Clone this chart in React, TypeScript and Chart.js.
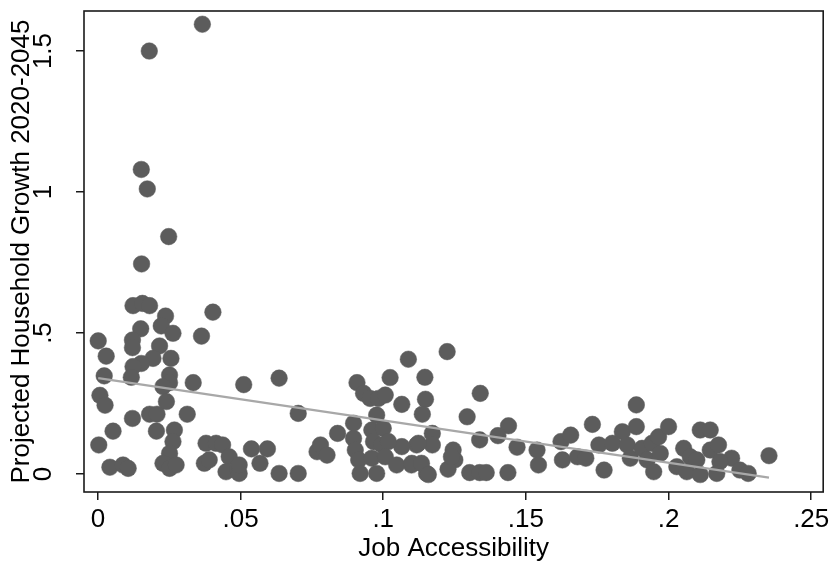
import React, { useEffect, useRef } from "react";
import { Chart, registerables } from "chart.js";

Chart.register(...registerables);

// Job accessibility (x) for each area
const jobAccess = [
  0.0366, 0.018, 0.0152, 0.0173, 0.0248, 0.0153, 0.0123, 0.0156, 0.0181, 0.0237,
  0.0403, 0.0001, 0.015, 0.0222, 0.0263, 0.0363, 0.0121, 0.0121, 0.0029, 0.0216,
  0.0193, 0.0152, 0.0123, 0.0256, 0.0117, 0.0022, 0.0251, 0.0251, 0.0228, 0.0334,
  0.0511, 0.0635, 0.0007, 0.0025, 0.024, 0.0121, 0.0181, 0.0207, 0.0313, 0.0053,
  0.0205, 0.0268, 0.0263, 0.0003, 0.0379, 0.0414, 0.0437, 0.0538, 0.0594, 0.0251,
  0.046, 0.0042, 0.0088, 0.0106, 0.0228, 0.0251, 0.0274, 0.0373, 0.0449, 0.0489,
  0.0495, 0.0568, 0.0635, 0.039, 0.0495, 0.0702, 0.0702, 0.0768, 0.078, 0.0803,
  0.084, 0.0908, 0.0931, 0.0954, 0.0983, 0.1007, 0.1024, 0.1088, 0.1146, 0.1224,
  0.1065, 0.1148, 0.1137, 0.0977, 0.0896, 0.134, 0.1294, 0.1439, 0.1402, 0.1338,
  0.1469, 0.1539, 0.1544, 0.1437, 0.1303, 0.1338, 0.1361, 0.1245, 0.1251, 0.1227,
  0.1172, 0.1172, 0.1117, 0.1099, 0.1152, 0.1065, 0.0896, 0.096, 0.1, 0.0966,
  0.0902, 0.0995, 0.1018, 0.1123, 0.0914, 0.096, 0.1007, 0.1047, 0.11, 0.1134,
  0.0919, 0.0977, 0.1158, 0.1239, 0.1623, 0.1657, 0.1628, 0.1681, 0.171, 0.1733,
  0.1887, 0.1756, 0.1803, 0.1838, 0.1887, 0.1855, 0.1866, 0.1907, 0.1942, 0.1965,
  0.1925, 0.1948, 0.2, 0.1971, 0.1774, 0.2053, 0.2076, 0.2029, 0.2064, 0.2111,
  0.2146, 0.2146, 0.2175, 0.2221, 0.218, 0.2352, 0.2111, 0.2169, 0.225, 0.2279,
  0.2099,
];

// Projected household growth 2020-2045 (y) for each area
const hhGrowth = [
  1.595, 1.5, 1.08, 1.011, 0.842, 0.745, 0.597, 0.605, 0.597, 0.56,
  0.574, 0.472, 0.515, 0.525, 0.499, 0.489, 0.475, 0.448, 0.418, 0.454,
  0.41, 0.392, 0.381, 0.41, 0.343, 0.348, 0.351, 0.324, 0.31, 0.324,
  0.317, 0.34, 0.279, 0.244, 0.257, 0.197, 0.212, 0.212, 0.212, 0.152,
  0.152, 0.156, 0.115, 0.103, 0.109, 0.109, 0.103, 0.089, 0.089, 0.073,
  0.061, 0.024, 0.032, 0.02, 0.038, 0.02, 0.032, 0.038, 0.008, 0.02,
  0.002, 0.038, 0.002, 0.05, 0.032, 0.215, 0.002, 0.079, 0.103, 0.067,
  0.144, 0.324, 0.286, 0.268, 0.268, 0.28, 0.342, 0.407, 0.343, 0.434,
  0.247, 0.265, 0.212, 0.209, 0.18, 0.286, 0.203, 0.171, 0.136, 0.121,
  0.095, 0.085, 0.032, 0.005, 0.005, 0.005, 0.005, 0.085, 0.05, 0.017,
  0.144, 0.103, 0.103, 0.032, 0.002, 0.097, 0.126, 0.156, 0.162, 0.115,
  0.085, 0.103, 0.115, 0.109, 0.05, 0.056, 0.061, 0.032, 0.038, 0.038,
  0.002, 0.002, -0.002, 0.061, 0.115, 0.138, 0.05, 0.061, 0.056, 0.176,
  0.245, 0.103, 0.109, 0.15, 0.168, 0.103, 0.056, 0.091, 0.109, 0.132,
  0.05, 0.008, 0.168, 0.073, 0.014, 0.091, 0.061, 0.026, 0.008, 0.156,
  0.156, 0.085, 0.103, 0.056, 0.044, 0.065, -0.002, 0.002, 0.014, 0.002,
  0.05,
];

// Fitted values line endpoints
const fitX = [0.0001, 0.2352];
const fitY = [0.34, -0.013];

// Axis ticks
const xTickValues = [0, 0.05, 0.1, 0.15, 0.2, 0.25];
const xTickLabels = ["0", ".05", ".1", ".15", ".2", ".25"];
const yTickValues = [0, 0.5, 1, 1.5];
const yTickLabels = ["0", ".5", "1", "1.5"];

const xTitle = "Job Accessibility";
const yTitle = "Projected Household Growth 2020-2045";

const FONT = '"Liberation Sans", Arial, Helvetica, sans-serif';

const textPlugin = {
  id: "stataText",
  afterDraw(chart: any) {
    const { ctx, chartArea } = chart;
    const xs = chart.scales.x;
    const ys = chart.scales.y;
    ctx.save();
    // frame
    ctx.strokeStyle = "#1a1a1a";
    ctx.lineWidth = 1.6;
    ctx.strokeRect(chartArea.left, chartArea.top, chartArea.right - chartArea.left, chartArea.bottom - chartArea.top);
    ctx.fillStyle = "#000";
    ctx.font = `26px ${FONT}`;
    // x tick labels
    ctx.textAlign = "center";
    ctx.textBaseline = "middle";
    xTickValues.forEach((v, i) => {
      ctx.fillText(xTickLabels[i], xs.getPixelForValue(v), 520);
    });
    // x title
    ctx.fillText(xTitle, (chartArea.left + chartArea.right) / 2, 549);
    // y tick labels (rotated)
    yTickValues.forEach((v, i) => {
      ctx.save();
      ctx.translate(44, ys.getPixelForValue(v));
      ctx.rotate(-Math.PI / 2);
      ctx.fillText(yTickLabels[i], 0, 0);
      ctx.restore();
    });
    // y title
    ctx.save();
    ctx.translate(22, (chartArea.top + chartArea.bottom) / 2);
    ctx.rotate(-Math.PI / 2);
    ctx.fillText(yTitle, 0, 0);
    ctx.restore();
    ctx.restore();
  },
};

export default function App() {
  const ref = useRef<HTMLCanvasElement | null>(null);
  useEffect(() => {
    if (!ref.current) return;
    const points = jobAccess.map((x, i) => ({ x, y: hhGrowth[i] }));
    const fit = fitX.map((x, i) => ({ x, y: fitY[i] }));
    const chart = new Chart(ref.current, {
      type: "scatter",
      data: {
        datasets: [
          {
            type: "line",
            label: "Fitted values",
            data: fit,
            borderColor: "#a8a8a8",
            borderWidth: 2.2,
            pointRadius: 0,
            showLine: true,
            fill: false,
            order: 0,
          } as any,
          {
            label: "Growth",
            data: points,
            backgroundColor: "#5c5c5c",
            borderColor: "#5c5c5c",
            borderWidth: 0.5,
            pointRadius: 8.3,
            order: 1,
          },
        ],
      },
      options: {
        responsive: false,
        animation: false,
        devicePixelRatio: 1,
        layout: { padding: { top: 11, right: 5, left: 0, bottom: 0 } },
        plugins: { legend: { display: false }, tooltip: { enabled: false } },
        scales: {
          x: {
            type: "linear",
            min: -0.00488,
            max: 0.2542,
            afterBuildTicks: (s: any) => {
              s.ticks = xTickValues.map((v) => ({ value: v }));
            },
            afterFit: (s: any) => {
              s.height = 71;
            },
            ticks: { display: false },
            border: { display: false },
            grid: {
              drawOnChartArea: false,
              drawTicks: true,
              tickLength: 8,
              color: "#1a1a1a",
              lineWidth: 1.5,
            },
          },
          y: {
            type: "linear",
            min: -0.0638,
            max: 1.642,
            afterBuildTicks: (s: any) => {
              s.ticks = yTickValues.map((v) => ({ value: v }));
            },
            afterFit: (s: any) => {
              s.width = 84;
            },
            ticks: { display: false },
            border: { display: false },
            grid: {
              drawOnChartArea: false,
              drawTicks: true,
              tickLength: 8,
              color: "#1a1a1a",
              lineWidth: 1.5,
            },
          },
        },
      },
      plugins: [textPlugin],
    });
    return () => chart.destroy();
  }, []);
  return (
    <div style={{ position: "absolute", left: 0, top: 0, width: 832, height: 563, background: "#fff" }}>
      <canvas ref={ref} width={832} height={563} style={{ display: "block" }} />
    </div>
  );
}
